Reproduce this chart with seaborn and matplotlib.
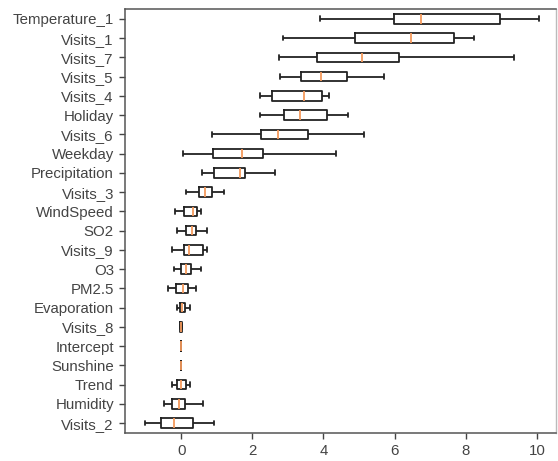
import numpy as np
import pandas as pd
import matplotlib
matplotlib.use("Agg")
import matplotlib.pyplot as plt
import seaborn as sns

# Coefficient distributions per feature (five-number summaries)
features = ["Temperature_1", "Visits_1", "Visits_7", "Visits_5", "Visits_4",
            "Holiday", "Visits_6", "Weekday", "Precipitation", "Visits_3",
            "WindSpeed", "SO2", "Visits_9", "O3", "PM2.5", "Evaporation",
            "Visits_8", "Intercept", "Sunshine", "Trend", "Humidity", "Visits_2"]
whisker_low = [3.90, 2.85, 2.74, 2.77, 2.21, 2.22, 0.87, 0.04, 0.59, 0.13,
               -0.17, -0.13, -0.26, -0.21, -0.37, -0.11, -0.03, 0.0, 0.0,
               -0.27, -0.49, -1.03]
q1 = [5.98, 4.90, 3.81, 3.37, 2.56, 2.88, 2.24, 0.89, 0.92, 0.49,
      0.08, 0.14, 0.08, 0.00, -0.15, -0.04, -0.02, 0.0, 0.0,
      -0.11, -0.25, -0.58]
median = [6.73, 6.45, 5.09, 3.94, 3.46, 3.35, 2.73, 1.71, 1.64, 0.68,
          0.34, 0.29, 0.21, 0.14, 0.06, 0.03, 0.00, 0.0, 0.0,
          0.00, -0.06, -0.20]
q3 = [8.97, 7.67, 6.13, 4.67, 3.95, 4.11, 3.56, 2.29, 1.79, 0.87,
      0.45, 0.43, 0.61, 0.27, 0.20, 0.12, 0.02, 0.0, 0.0,
      0.13, 0.11, 0.32]
whisker_high = [10.06, 8.22, 9.35, 5.69, 4.15, 4.69, 5.14, 4.34, 2.63, 1.20,
                0.57, 0.72, 0.72, 0.57, 0.42, 0.26, 0.03, 0.0, 0.0,
                0.25, 0.61, 0.92]

# Five observations per feature reproduce each summary exactly
rows = []
for i, name in enumerate(features):
    for v in (whisker_low[i], q1[i], median[i], q3[i], whisker_high[i]):
        rows.append({"feature": name, "value": v})
df = pd.DataFrame(rows)

sns.set_style("ticks")
plt.rcParams["font.family"] = ["Liberation Sans", "DejaVu Sans"]

fig = plt.figure(figsize=(5.58, 4.61), dpi=100)
ax = fig.add_axes([0.224, 0.0614, 0.772, 0.9186])

sns.boxplot(data=df, x="value", y="feature", order=features, orient="h",
            fill=False, color="#222222", width=0.5, whis=1.5, linewidth=1.3,
            capwidths=0.25,
            medianprops=dict(color="#f59a5c", linewidth=1.3, zorder=4),
            ax=ax)

ax.set_xlim(-1.58, 10.53)
ax.set_xticks([0, 2, 4, 6, 8, 10])
ax.set_xlabel("")
ax.set_ylabel("")
ax.tick_params(axis="both", labelsize=10.8, colors="#444444", length=4.5,
               width=1.0)
for side in ["left", "bottom", "top"]:
    ax.spines[side].set_visible(True)
    ax.spines[side].set_color("#555555")
    ax.spines[side].set_linewidth(1.1)
ax.spines["right"].set_visible(True)
ax.spines["right"].set_color("#bbbbbb")
ax.spines["right"].set_linewidth(1.0)

fig.savefig("out.png", dpi=100)
